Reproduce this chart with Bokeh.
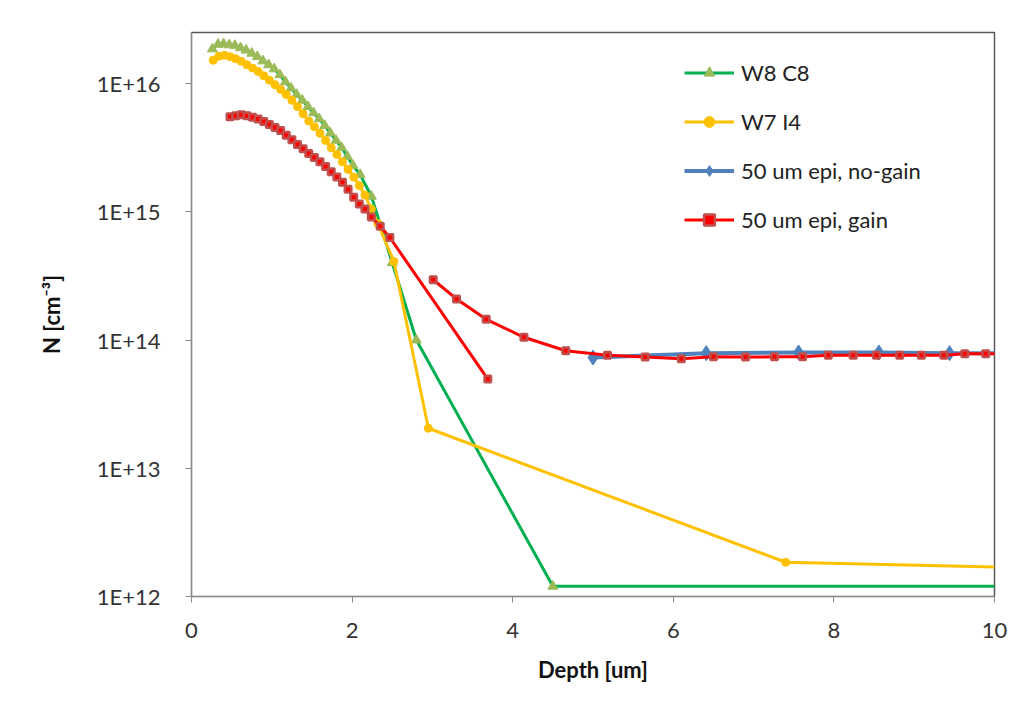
from bokeh.plotting import figure
from bokeh.models import Range1d, FixedTicker, CustomJSTickFormatter, Legend, LegendItem
from bokeh.embed import file_html
from bokeh.resources import INLINE

# ---------------- data ----------------
w8_x = [0.26, 0.33, 0.40, 0.47, 0.54, 0.61, 0.68, 0.75, 0.82, 0.89, 0.96, 1.03, 1.10,
        1.17, 1.24, 1.31, 1.38, 1.45, 1.52, 1.59, 1.66, 1.73, 1.80, 1.87, 1.94, 2.01,
        2.10, 2.24, 2.50, 2.80, 4.50, 10.0]
w8_n = [1.86e16, 2.02e16, 2.04e16, 2.0e16, 1.98e16, 1.9e16, 1.82e16, 1.72e16, 1.62e16,
        1.5e16, 1.4e16, 1.3e16, 1.17e16, 1.03e16, 9.2e15, 8.2e15, 7.4e15, 6.6e15, 5.9e15,
        5.3e15, 4.7e15, 4.1e15, 3.6e15, 3.16e15, 2.7e15, 2.3e15, 1.95e15, 1.32e15,
        4.0e14, 1.0e14, 1.2e12, 1.2e12]

w7_x = [0.27, 0.34, 0.41, 0.48, 0.55, 0.62, 0.69, 0.76, 0.83, 0.90, 0.97, 1.04, 1.11,
        1.18, 1.25, 1.32, 1.39, 1.46, 1.53, 1.60, 1.67, 1.74, 1.81, 1.88, 1.95, 2.02,
        2.09, 2.16, 2.24, 2.32, 2.52, 2.95, 7.40, 10.0]
w7_n = [1.52e16, 1.63e16, 1.66e16, 1.62e16, 1.56e16, 1.49e16, 1.40e16, 1.32e16, 1.24e16,
        1.15e16, 1.06e16, 9.8e15, 9.0e15, 8.2e15, 7.4e15, 6.6e15, 5.8e15, 5.1e15, 4.6e15,
        4.1e15, 3.6e15, 3.16e15, 2.8e15, 2.45e15, 2.14e15, 1.86e15, 1.6e15, 1.35e15,
        1.05e15, 8.1e14, 4.1e14, 2.05e13, 1.85e12, 1.7e12]

nogain_x = [5.00, 6.41, 7.56, 8.56, 9.44, 10.3]
nogain_n = [7.3e13, 7.9e13, 8.0e13, 8.0e13, 7.9e13, 7.9e13]

gain1_x = [0.48, 0.55, 0.62, 0.69, 0.76, 0.83, 0.90, 0.97, 1.04, 1.11, 1.18, 1.25, 1.32,
           1.39, 1.46, 1.53, 1.60, 1.67, 1.74, 1.81, 1.88, 1.95, 2.02, 2.09, 2.16, 2.24,
           2.35, 2.47, 3.69]
gain1_n = [5.5e15, 5.6e15, 5.7e15, 5.6e15, 5.45e15, 5.3e15, 5.05e15, 4.8e15, 4.55e15,
           4.3e15, 3.95e15, 3.65e15, 3.35e15, 3.1e15, 2.85e15, 2.65e15, 2.45e15, 2.25e15,
           2.05e15, 1.87e15, 1.7e15, 1.5e15, 1.3e15, 1.15e15, 1.05e15, 9.1e14, 7.7e14,
           6.3e14, 4.96e13]

gain2_x = [3.01, 3.30, 3.67, 4.14, 4.66, 5.18, 5.65, 6.10, 6.50, 6.90, 7.26, 7.61, 7.93,
           8.24, 8.53, 8.82, 9.09, 9.37, 9.63, 9.89, 10.15]
gain2_n = [2.95e14, 2.09e14, 1.45e14, 1.05e14, 8.25e13, 7.6e13, 7.36e13, 7.14e13, 7.4e13,
           7.36e13, 7.4e13, 7.4e13, 7.6e13, 7.6e13, 7.6e13, 7.6e13, 7.6e13, 7.6e13,
           7.8e13, 7.8e13, 7.8e13]

series_labels = ["W8 C8", "W7 I4", "50 um epi, no-gain", "50 um epi, gain"]
x_ticks = [0, 2, 4, 6, 8, 10]
y_ticks = [1e12, 1e13, 1e14, 1e15, 1e16]
y_tick_labels = ["1E+12", "1E+13", "1E+14", "1E+15", "1E+16"]

FONT = "Lato"
TXT = "#333333"

p = figure(frame_width=803, frame_height=564,
           min_border_left=191, min_border_top=32, min_border_right=17, min_border_bottom=111,
           x_range=Range1d(0, 10), y_range=Range1d(1e12, 2.5e16), y_axis_type="log",
           output_backend="svg", toolbar_location=None)

p.background_fill_color = "white"
p.border_fill_color = "white"
p.xgrid.visible = False
p.ygrid.visible = False
p.outline_line_color = "#595959"
p.outline_line_width = 1.5

p.xaxis.ticker = FixedTicker(ticks=x_ticks)
p.yaxis.ticker = FixedTicker(ticks=y_ticks)
p.yaxis.formatter = CustomJSTickFormatter(
    args=dict(vals=y_ticks, labs=y_tick_labels),
    code="""
    for (let i = 0; i < vals.length; i++) {
        if (Math.abs(Math.log10(vals[i]) - Math.log10(tick)) < 1e-6) return labs[i];
    }
    return "";
    """)

for ax in (p.xaxis[0], p.yaxis[0]):
    ax.axis_line_color = "#8c8c8c"
    ax.axis_line_width = 1
    ax.major_tick_line_color = "#8c8c8c"
    ax.major_tick_out = 6
    ax.major_tick_in = 0
    ax.minor_tick_line_color = None
    ax.major_label_text_font = FONT
    ax.major_label_text_font_size = "22px"
    ax.major_label_text_color = TXT
    ax.axis_label_text_font = FONT
    ax.axis_label_text_font_size = "22px"
    ax.axis_label_text_font_style = "bold"
    ax.axis_label_text_color = "#111111"

p.xaxis.axis_label = "Depth [um]"
p.yaxis.axis_label = "N [cm\u207B\u00B3]"
p.xaxis.major_label_standoff = 20
p.xaxis.axis_label_standoff = 15
p.yaxis.major_label_standoff = 25
p.yaxis.axis_label_standoff = 29

# series, in Excel order
g_line = p.line(w8_x, w8_n, line_color="#00B050", line_width=3)
g_sc = p.scatter(w8_x[:-1], w8_n[:-1], marker="triangle", size=10,
                 fill_color="#9BBB59", line_color="#9BBB59")

y_line = p.line(w7_x, w7_n, line_color="#FFC000", line_width=3)
y_sc = p.scatter(w7_x[:-1], w7_n[:-1], marker="circle", size=8,
                 fill_color="#FFC000", line_color="#FFC000")

b_line = p.line(nogain_x, nogain_n, line_color="#4F81BD", line_width=4)
b_sc = p.scatter(nogain_x, nogain_n, marker="diamond", size=15,
                 fill_color="#4F81BD", line_color="#4F81BD")

r_line1 = p.line(gain1_x, gain1_n, line_color="#FF0000", line_width=3)
r_sc1 = p.scatter(gain1_x, gain1_n, marker="square", size=6.5,
                  fill_color="#FF0000", line_color="#C0504D", line_width=2.5)
r_line2 = p.line(gain2_x, gain2_n, line_color="#FF0000", line_width=3)
r_sc2 = p.scatter(gain2_x, gain2_n, marker="square", size=6.5,
                  fill_color="#FF0000", line_color="#C0504D", line_width=2.5)

legend = Legend(items=[
    LegendItem(label=series_labels[0], renderers=[g_line, g_sc]),
    LegendItem(label=series_labels[1], renderers=[y_line, y_sc]),
    LegendItem(label=series_labels[2], renderers=[b_line, b_sc]),
    LegendItem(label=series_labels[3], renderers=[r_line1, r_sc1]),
], location=(493, 363))
legend.background_fill_alpha = 0
legend.border_line_color = None
legend.padding = 0
legend.margin = 0
legend.spacing = 22
legend.glyph_width = 50
legend.glyph_height = 27
legend.label_height = 27
legend.label_standoff = 7
legend.label_text_font = FONT
legend.label_text_font_size = "22px"
legend.label_text_color = "#222222"
p.add_layout(legend)

open("out.html", "w").write(file_html(p, INLINE))
